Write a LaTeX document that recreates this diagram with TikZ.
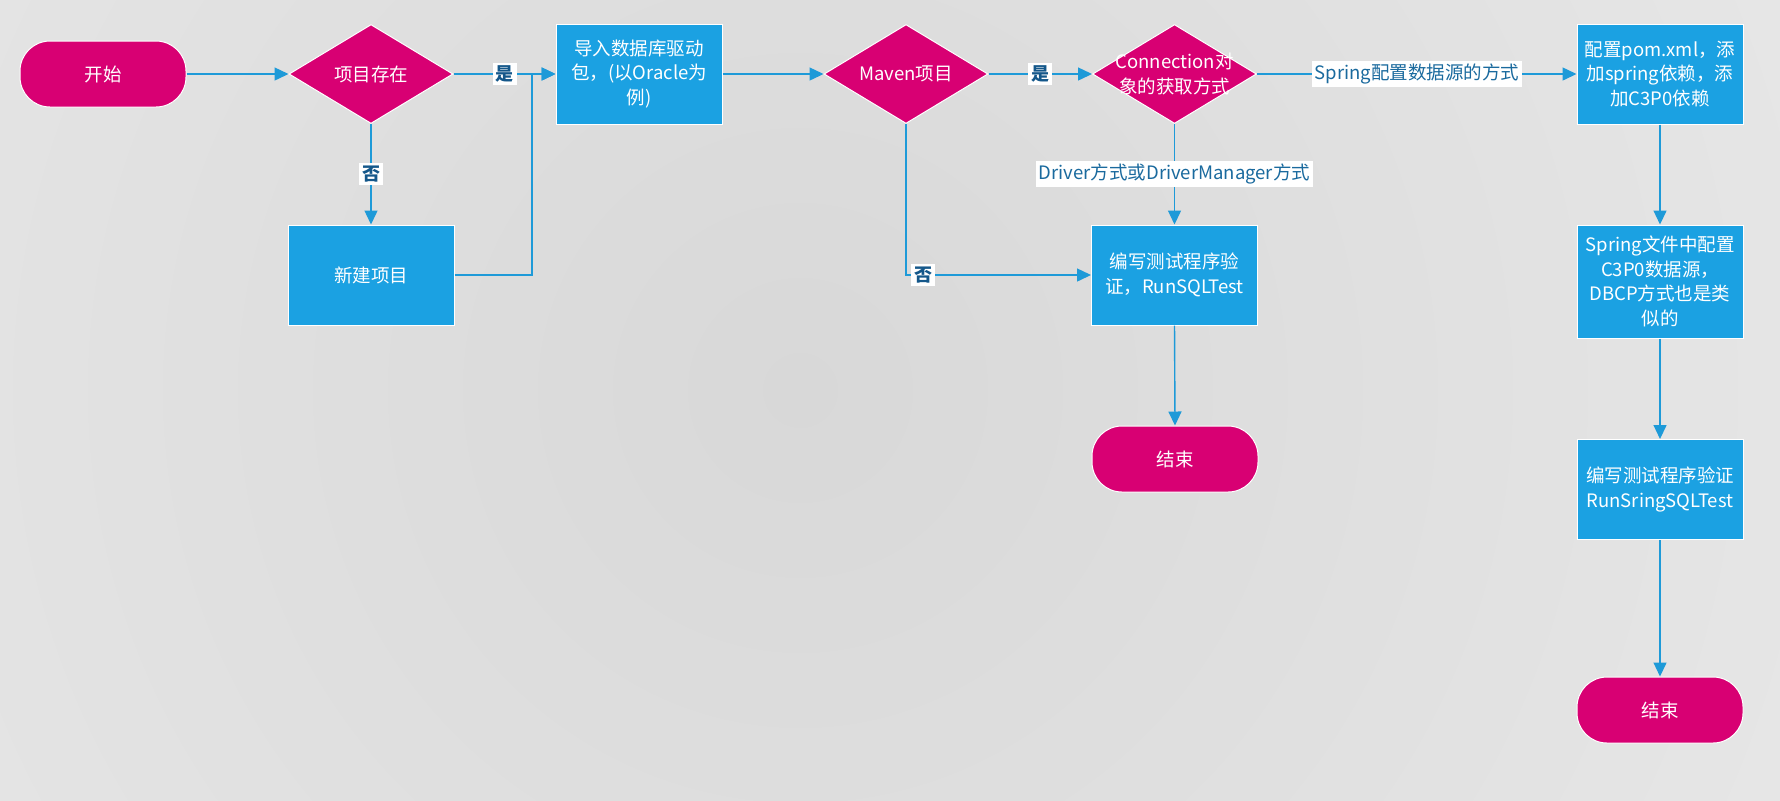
\documentclass[tikz,border=0pt]{standalone}
\usepackage{fontspec}
\setmainfont{Noto Sans CJK SC}
\usetikzlibrary{shapes.geometric,arrows.meta}
\definecolor{mag}{HTML}{D80073}
\definecolor{blu}{HTML}{1BA1E2}
\definecolor{lnk}{HTML}{1E9AD8}
\definecolor{lbl}{HTML}{1A6A9E}
\definecolor{ynl}{HTML}{14578A}
\definecolor{bgin}{HTML}{D8D8D8}
\definecolor{bgout}{HTML}{ECECEC}
\begin{document}
\begin{tikzpicture}[x=0.5pt,y=-0.5pt,
  base/.style={draw=white, line width=0.5pt, text=white, align=center, font=\fontsize{9.25}{12.25}\selectfont, inner sep=0pt},
  term/.style={base, fill=mag, rounded corners=15pt, minimum width=83pt, minimum height=33pt},
  proc/.style={base, fill=blu, minimum width=83pt, minimum height=50pt},
  dec/.style={base, diamond, fill=mag, minimum width=82pt, minimum height=49.5pt},
  dectxt/.style={text=white, align=center, font=\fontsize{9.25}{12.25}\selectfont, inner sep=0pt},
  conn/.style={draw=lnk, line width=0.7pt, -{Triangle[length=7pt,width=6.5pt]}},
  lab/.style={fill=white, text=lbl, font=\fontsize{9.25}{11}\selectfont, inner sep=1.5pt},
  yn/.style={fill=white, text=ynl, font=\fontsize{9}{11}\bfseries\selectfont, inner sep=1.5pt}
]
\useasboundingbox (0,0) rectangle (1780,800);
\begin{scope}
\clip (0,0) rectangle (1780,800);
\shade[inner color=bgin, outer color=bgout] (800,390) circle (1500);
\end{scope}

% nodes
\node[term] (start) at (103,74) {开始};
\node[dec, label={[dectxt]center:项目存在}] (d1) at (371,74) {};
\node[proc] (new) at (371,275) {新建项目};
\node[proc] (imp) at (639,74) {导入数据库驱动\\包，(以Oracle为\\例)};
\node[dec, label={[dectxt]center:Maven项目}] (d2) at (906,74) {};
\node[dec, label={[dectxt]center:{Connection对\\象的获取方式}}] (d3) at (1174.5,74) {};
\node[proc] (cfg) at (1660,74) {配置pom.xml，添\\加spring依赖，添\\加C3P0依赖};
\node[proc] (test1) at (1174.5,275) {编写测试程序验\\证，RunSQLTest};
\node[term] (end1) at (1175,459) {结束};
\node[proc, minimum height=56.5pt] (spr) at (1660,281.5) {Spring文件中配置\\C3P0数据源，\\DBCP方式也是类\\似的};
\node[proc] (test2) at (1660,489.5) {编写测试程序验证\\RunSringSQLTest};
\node[term] (end2) at (1660,710) {结束};
\coordinate (j1) at (532,74);

% connectors
\draw[conn] (start.east) -- (d1.west);
\draw[conn] (d1.east) -- node[yn,pos=0.5]{是} (imp.west);
\draw[conn] (d1.south) -- node[yn]{否} (new.north);
\draw[conn] (new.east) -| (j1) -- (imp.west);
\draw[conn] (imp.east) -- (d2.west);
\draw[conn] (d2.east) -- node[yn]{是} (d3.west);
\draw[conn] (d2.south) |- node[yn,pos=0.546]{否} (test1.west);
\draw[conn] (d3.east) -- node[lab]{Spring配置数据源的方式} (cfg.west);
\draw[conn] (d3.south) -- node[lab]{Driver方式或DriverManager方式} (test1.north);
\draw[conn] (test1.south) -- (end1.north);
\draw[conn] (cfg.south) -- (spr.north);
\draw[conn] (spr.south) -- (test2.north);
\draw[conn] (test2.south) -- (end2.north);
\end{tikzpicture}
\end{document}
